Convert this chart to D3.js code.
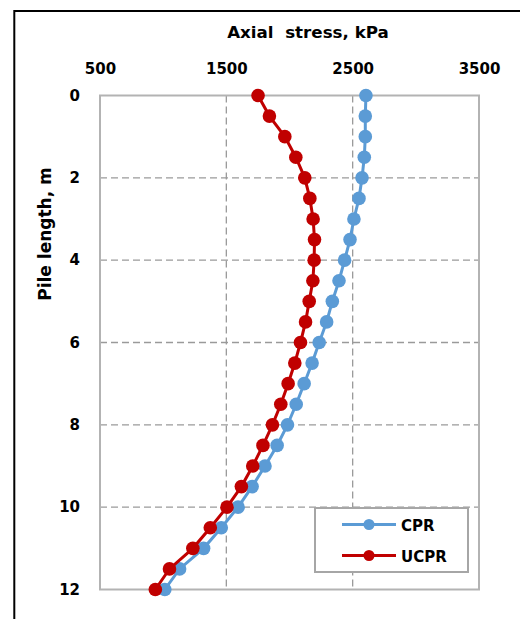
<!DOCTYPE html>
<html><head><meta charset="utf-8">
<script src="https://cdn.jsdelivr.net/npm/d3@7"></script>
<style>body{margin:0;background:#fff;}svg{display:block;}</style>
</head><body>
<script>
const depths = [0,0.5,1,1.5,2,2.5,3,3.5,4,4.5,5,5.5,6,6.5,7,7.5,8,8.5,9,9.5,10,10.5,11,11.5,12];
const cpr  = [2605,2600,2600,2592,2574,2550,2510,2479,2436,2392,2339,2294,2235,2179,2116,2053,1984,1902,1806,1704,1593,1460,1320,1130,1013];
const ucpr = [1751,1841,1963,2050,2121,2161,2187,2198,2195,2185,2156,2127,2087,2042,1989,1931,1865,1790,1709,1619,1505,1373,1235,1050,938];
const xTicks = [500,1500,2500,3500];
const yTicks = [0,2,4,6,8,10,12];
const seriesNames = ["CPR","UCPR"];
const colors = ["#5B9BD5","#C00000"];

const W=520,H=619;
const font = "'DejaVu Sans', sans-serif";
const svg = d3.select("body").append("svg").attr("width",W).attr("height",H);
svg.append("rect").attr("width",W).attr("height",H).attr("fill","#fff");
// outer frame
svg.append("path").attr("d","M14.3,625V11H525").attr("fill","none").attr("stroke","#000").attr("stroke-width",2);

const x = d3.scaleLinear().domain([500,3500]).range([100,479]);
const y = d3.scaleLinear().domain([0,12]).range([95.5,589.5]);

// gridlines
svg.append("g").selectAll("line").data(yTicks.filter(d=>d>0&&d<12)).join("line")
  .attr("x1",x(500)).attr("x2",x(3500)).attr("y1",d=>y(d)).attr("y2",d=>y(d))
  .attr("stroke","#9a9a9a").attr("stroke-width",1.3).attr("stroke-dasharray","7,4");
svg.append("g").selectAll("line").data(xTicks.filter(d=>d>500&&d<3500)).join("line")
  .attr("y1",y(0)).attr("y2",y(12)).attr("x1",d=>x(d)).attr("x2",d=>x(d))
  .attr("stroke","#9a9a9a").attr("stroke-width",1.3).attr("stroke-dasharray","7,4");
// plot border
svg.append("rect").attr("x",x(500)).attr("y",y(0)).attr("width",x(3500)-x(500)).attr("height",y(12)-y(0))
  .attr("fill","none").attr("stroke","#b3b3b3").attr("stroke-width",2);

// axes
const gx = svg.append("g").attr("transform",`translate(0,${y(0)})`)
  .call(d3.axisTop(x).tickValues(xTicks).tickSize(0).tickPadding(21.5).tickFormat(d3.format("d")));
const gy = svg.append("g").attr("transform",`translate(${x(500)},0)`)
  .call(d3.axisLeft(y).tickValues(yTicks).tickSize(0).tickPadding(20).tickFormat(d3.format("d")));
[gx,gy].forEach(g=>{g.select(".domain").remove();
  g.selectAll("text").attr("font-family",font).attr("font-weight","bold").attr("font-size",15).attr("fill","#000");});

// titles
svg.append("text").attr("x",308).attr("y",38).attr("text-anchor","middle")
  .attr("font-family",font).attr("font-weight","bold").attr("font-size",16.7).attr("fill","#000")
  .attr("xml:space","preserve").text("Axial  stress, kPa");
svg.append("text").attr("transform","translate(51,234) rotate(-90)").attr("text-anchor","middle")
  .attr("font-family",font).attr("font-weight","bold").attr("font-size",17).attr("fill","#000")
  .text("Pile length, m");

// series
const line = d3.line().x(d=>x(d[1])).y(d=>y(d[0]));
[cpr,ucpr].forEach((vals,i)=>{
  const pts = depths.map((d,j)=>[d,vals[j]]);
  const g = svg.append("g");
  g.append("path").datum(pts).attr("d",line).attr("fill","none").attr("stroke",colors[i]).attr("stroke-width",3);
  g.selectAll("circle").data(pts).join("circle").attr("cx",d=>x(d[1])).attr("cy",d=>y(d[0])).attr("r",6.8).attr("fill",colors[i]);
});

// legend
const lg = svg.append("g");
lg.append("rect").attr("x",315).attr("y",508).attr("width",153).attr("height",64)
  .attr("fill","#fff").attr("stroke","#a6a6a6").attr("stroke-width",2);
seriesNames.forEach((n,i)=>{
  const yy = 524.5 + i*31;
  lg.append("line").attr("x1",342).attr("x2",396).attr("y1",yy).attr("y2",yy).attr("stroke",colors[i]).attr("stroke-width",3);
  lg.append("circle").attr("cx",369).attr("cy",yy).attr("r",5.5).attr("fill",colors[i]);
  lg.append("text").attr("x",401).attr("y",yy+6.5).attr("font-family",font).attr("font-weight","bold")
    .attr("font-size",15).attr("fill","#000").text(n);
});
</script>
</body></html>
